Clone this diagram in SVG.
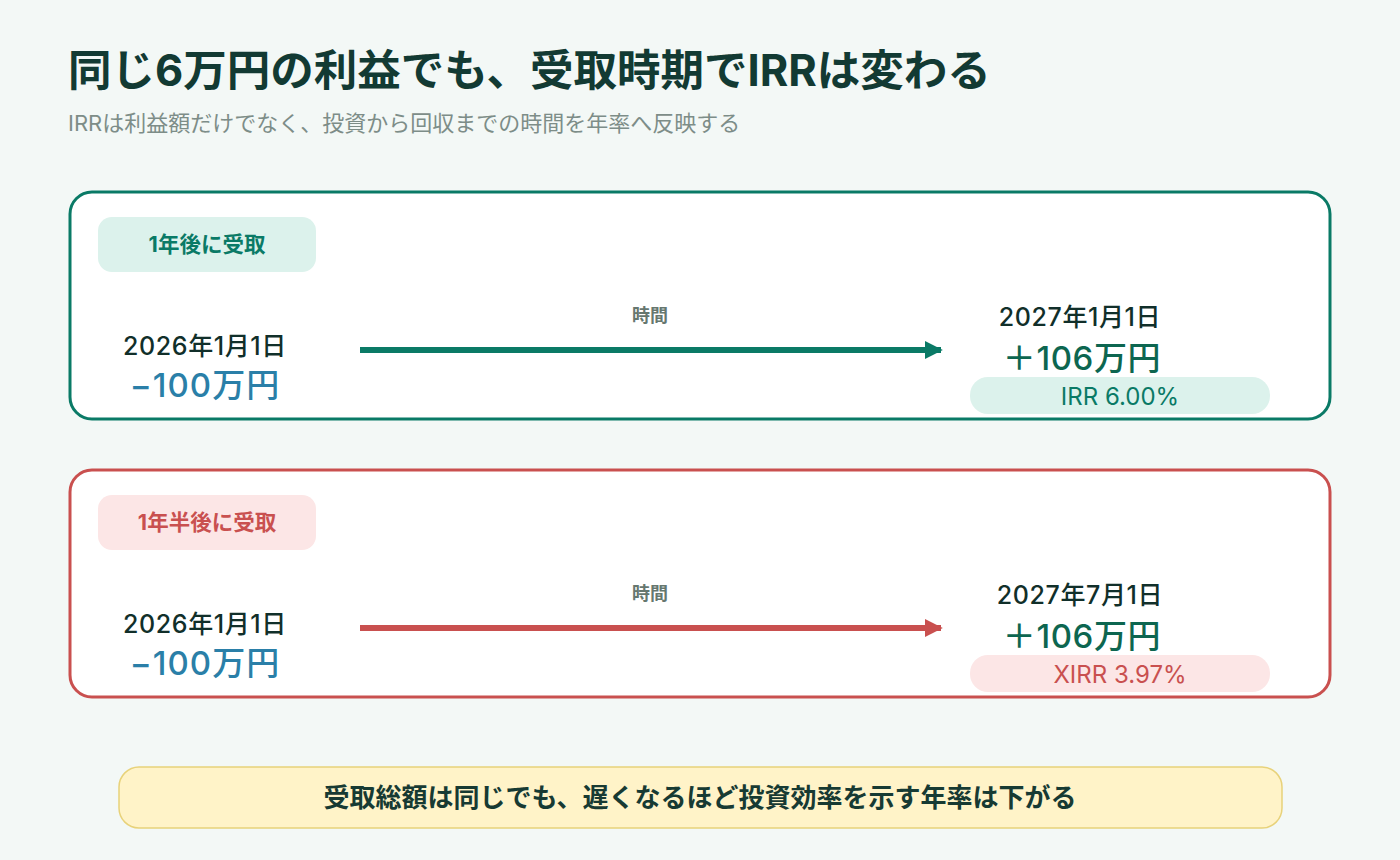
<svg xmlns="http://www.w3.org/2000/svg" width="1400" height="860" viewBox="0 0 1400 860">
<style>
text{font-family:Inter,"Noto Sans CJK JP",sans-serif}
.title{font-size:43.5px;font-weight:700;fill:#123a33}
.sub{font-size:22px;font-weight:400;fill:#7d8d88}
.card{fill:#ffffff;stroke-width:3}
.tag{font-size:21.5px;font-weight:700;text-anchor:middle}
.date{font-size:25px;font-weight:500;fill:#112f2a;text-anchor:middle;letter-spacing:0.6px}
.neg{font-size:33px;font-weight:500;fill:#2a7fa8;text-anchor:middle;letter-spacing:1px}
.pos{font-size:33px;font-weight:500;fill:#0d6650;text-anchor:middle;letter-spacing:0.6px}
.time{font-size:18px;font-weight:700;fill:#66776f;text-anchor:middle}
.rate{font-size:24px;font-weight:400;text-anchor:middle}
.note{font-size:26px;font-weight:700;fill:#173a33;text-anchor:middle}
</style>
<defs>
<marker id="ag" viewBox="0 0 10 10" refX="9" refY="5" markerWidth="3" markerHeight="3.3" orient="auto" markerUnits="strokeWidth"><path d="M0,0 L10,5 L0,10 z" fill="#0a7a66"/></marker>
<marker id="ar" viewBox="0 0 10 10" refX="9" refY="5" markerWidth="3" markerHeight="3.3" orient="auto" markerUnits="strokeWidth"><path d="M0,0 L10,5 L0,10 z" fill="#c9504f"/></marker>
</defs>
<rect width="1400" height="860" fill="#f3f8f6"/>
<text class="title" x="68" y="86">同じ6万円の利益でも、受取時期でIRRは変わる</text>
<text class="sub" x="68" y="131">IRRは利益額だけでなく、投資から回収までの時間を年率へ反映する</text>

<g id="card1">
<rect class="card" x="70" y="192" width="1260" height="227" rx="22" stroke="#0a7a66"/>
<rect x="98" y="217" width="218" height="55" rx="14" fill="#dcf2ec"/>
<text class="tag" x="207" y="252" fill="#0a7a66">1年後に受取</text>
<text class="date" x="205" y="355">2026年1月1日</text>
<text class="neg" x="205" y="397">−100万円</text>
<text class="time" x="650" y="322">時間</text>
<text class="date" x="1080" y="326">2027年1月1日</text>
<text class="pos" x="1082" y="370">＋106万円</text>
<rect x="970" y="377" width="300" height="37" rx="18" fill="#dcf2ec"/>
<text class="rate" x="1120" y="405" fill="#0a7a66">IRR 6.00%</text>
</g>

<g id="card2">
<rect class="card" x="70" y="470" width="1260" height="227" rx="22" stroke="#c9504f"/>
<rect x="98" y="495" width="218" height="55" rx="14" fill="#fce6e6"/>
<text class="tag" x="207" y="530" fill="#c9504f">1年半後に受取</text>
<text class="date" x="205" y="633">2026年1月1日</text>
<text class="neg" x="205" y="675">−100万円</text>
<text class="time" x="650" y="600">時間</text>
<text class="date" x="1080" y="604">2027年7月1日</text>
<text class="pos" x="1082" y="648">＋106万円</text>
<rect x="970" y="655" width="300" height="37" rx="18" fill="#fce6e6"/>
<text class="rate" x="1120" y="683" fill="#c9504f">XIRR 3.97%</text>
</g>

<g id="connectors">
<line x1="360" y1="350" x2="941" y2="350" stroke="#0a7a66" stroke-width="6" marker-end="url(#ag)"/>
<line x1="360" y1="628" x2="941" y2="628" stroke="#c9504f" stroke-width="6" marker-end="url(#ar)"/>
</g>

<g id="note">
<rect x="119" y="767" width="1163" height="61" rx="20" fill="#fff3c8" stroke="#e8d27a" stroke-width="1.5"/>
<text class="note" x="700" y="807">受取総額は同じでも、遅くなるほど投資効率を示す年率は下がる</text>
</g>
</svg>
